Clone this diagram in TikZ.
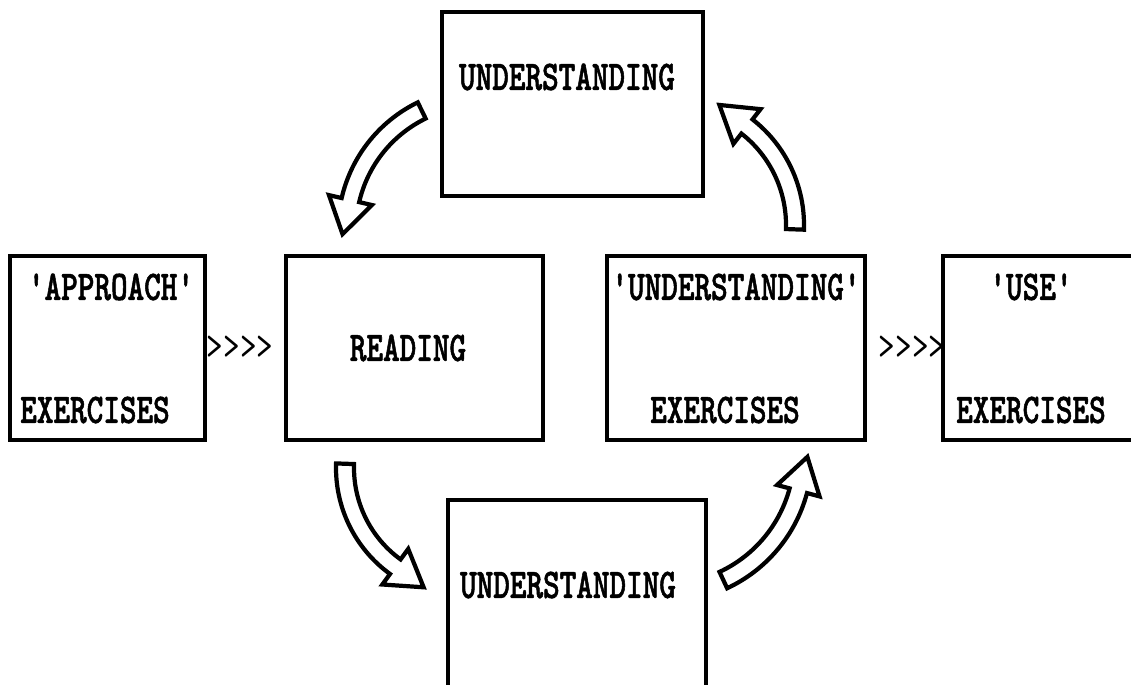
\documentclass[tikz,border=0pt]{standalone}
\usepackage{fontspec}
\newfontfamily\typewriter[FakeStretch=0.75, FakeBold=1.2]{lmmonolt10-bold.otf}
\newfontfamily\thintype[FakeStretch=0.75]{lmmono10-regular.otf}
\tikzset{
  stage/.style={draw, line width=2pt, inner sep=0pt},
  word/.style={font=\typewriter\fontsize{24pt}{27pt}\selectfont, inner sep=0pt},
  chevrons/.style={font=\thintype\fontsize{24pt}{27pt}\selectfont, inner sep=0pt},
  loop arrow/.style={draw, fill=white, line width=2.4pt},
}
% curved block arrow: centre, radius, start angle, end angle
\newcommand{\cyclearrow}[4]{%
  \pgfmathsetmacro{\shaftout}{#2+9}%
  \pgfmathsetmacro{\shaftin}{#2-9}%
  \pgfmathsetmacro{\headout}{#2+22}%
  \pgfmathsetmacro{\headin}{#2-22}%
  \pgfmathsetmacro{\tipx}{#2*cos(#4)+35*cos(#4+90)}%
  \pgfmathsetmacro{\tipy}{#2*sin(#4)+35*sin(#4+90)}%
  \begin{scope}[shift={#1}]
    \draw[loop arrow] (#3:\shaftout) arc[start angle=#3, end angle=#4, radius=\shaftout]
      -- (#4:\headout) -- (\tipx,\tipy) -- (#4:\headin) -- (#4:\shaftin)
      arc[start angle=#4, end angle=#3, radius=\shaftin] -- cycle;
  \end{scope}}
\begin{document}
\begin{tikzpicture}[x=0.02cm, y=0.02cm]
  \clip (0,0) rectangle (1131,684);
  %riquadri
  \node[stage, minimum width=5.22cm, minimum height=3.68cm] (upper) at (572.5,580) {};
  \node[stage, minimum width=3.9cm, minimum height=3.68cm] (approach) at (107.5,336) {};
  \node[stage, minimum width=5.14cm, minimum height=3.68cm] (reading) at (414.5,336) {};
  \node[stage, minimum width=5.16cm, minimum height=3.68cm] (exercises) at (736,336) {};
  \node[stage, minimum width=4.16cm, minimum height=3.68cm] (use) at (1047,336) {};
  \node[stage, minimum width=5.16cm, minimum height=4.08cm] (lower) at (577,82) {};
  %scritte
  \node[word] (upper text) at (567,607) {UNDERSTANDING};
  \node[word] (approach top) at (111,397) {'APPROACH'};
  \node[word] (approach bottom) at (95,274) {EXERCISES};
  \node[word] (reading text) at (408,336) {READING};
  \node[word] (exercises top) at (736,397) {'UNDERSTANDING'};
  \node[word] (exercises bottom) at (725,274) {EXERCISES};
  \node[word] (use top) at (1031,397) {'USE'};
  \node[word] (use bottom) at (1031,274) {EXERCISES};
  \node[word] (lower text) at (568,99) {UNDERSTANDING};
  %passaggi
  \node[chevrons] (first step) at (240,336) {>>>>};
  \node[chevrons] (second step) at (912,336) {>>>>};
  %frecce del ciclo
  \cyclearrow{(480,454)}{133}{116}{167}
  \cyclearrow{(467,216)}{122}{178}{234}
  \cyclearrow{(665,229)}{138}{-65}{-15}
  \cyclearrow{(670,459)}{125}{-2}{52}
\end{tikzpicture}
\end{document}
